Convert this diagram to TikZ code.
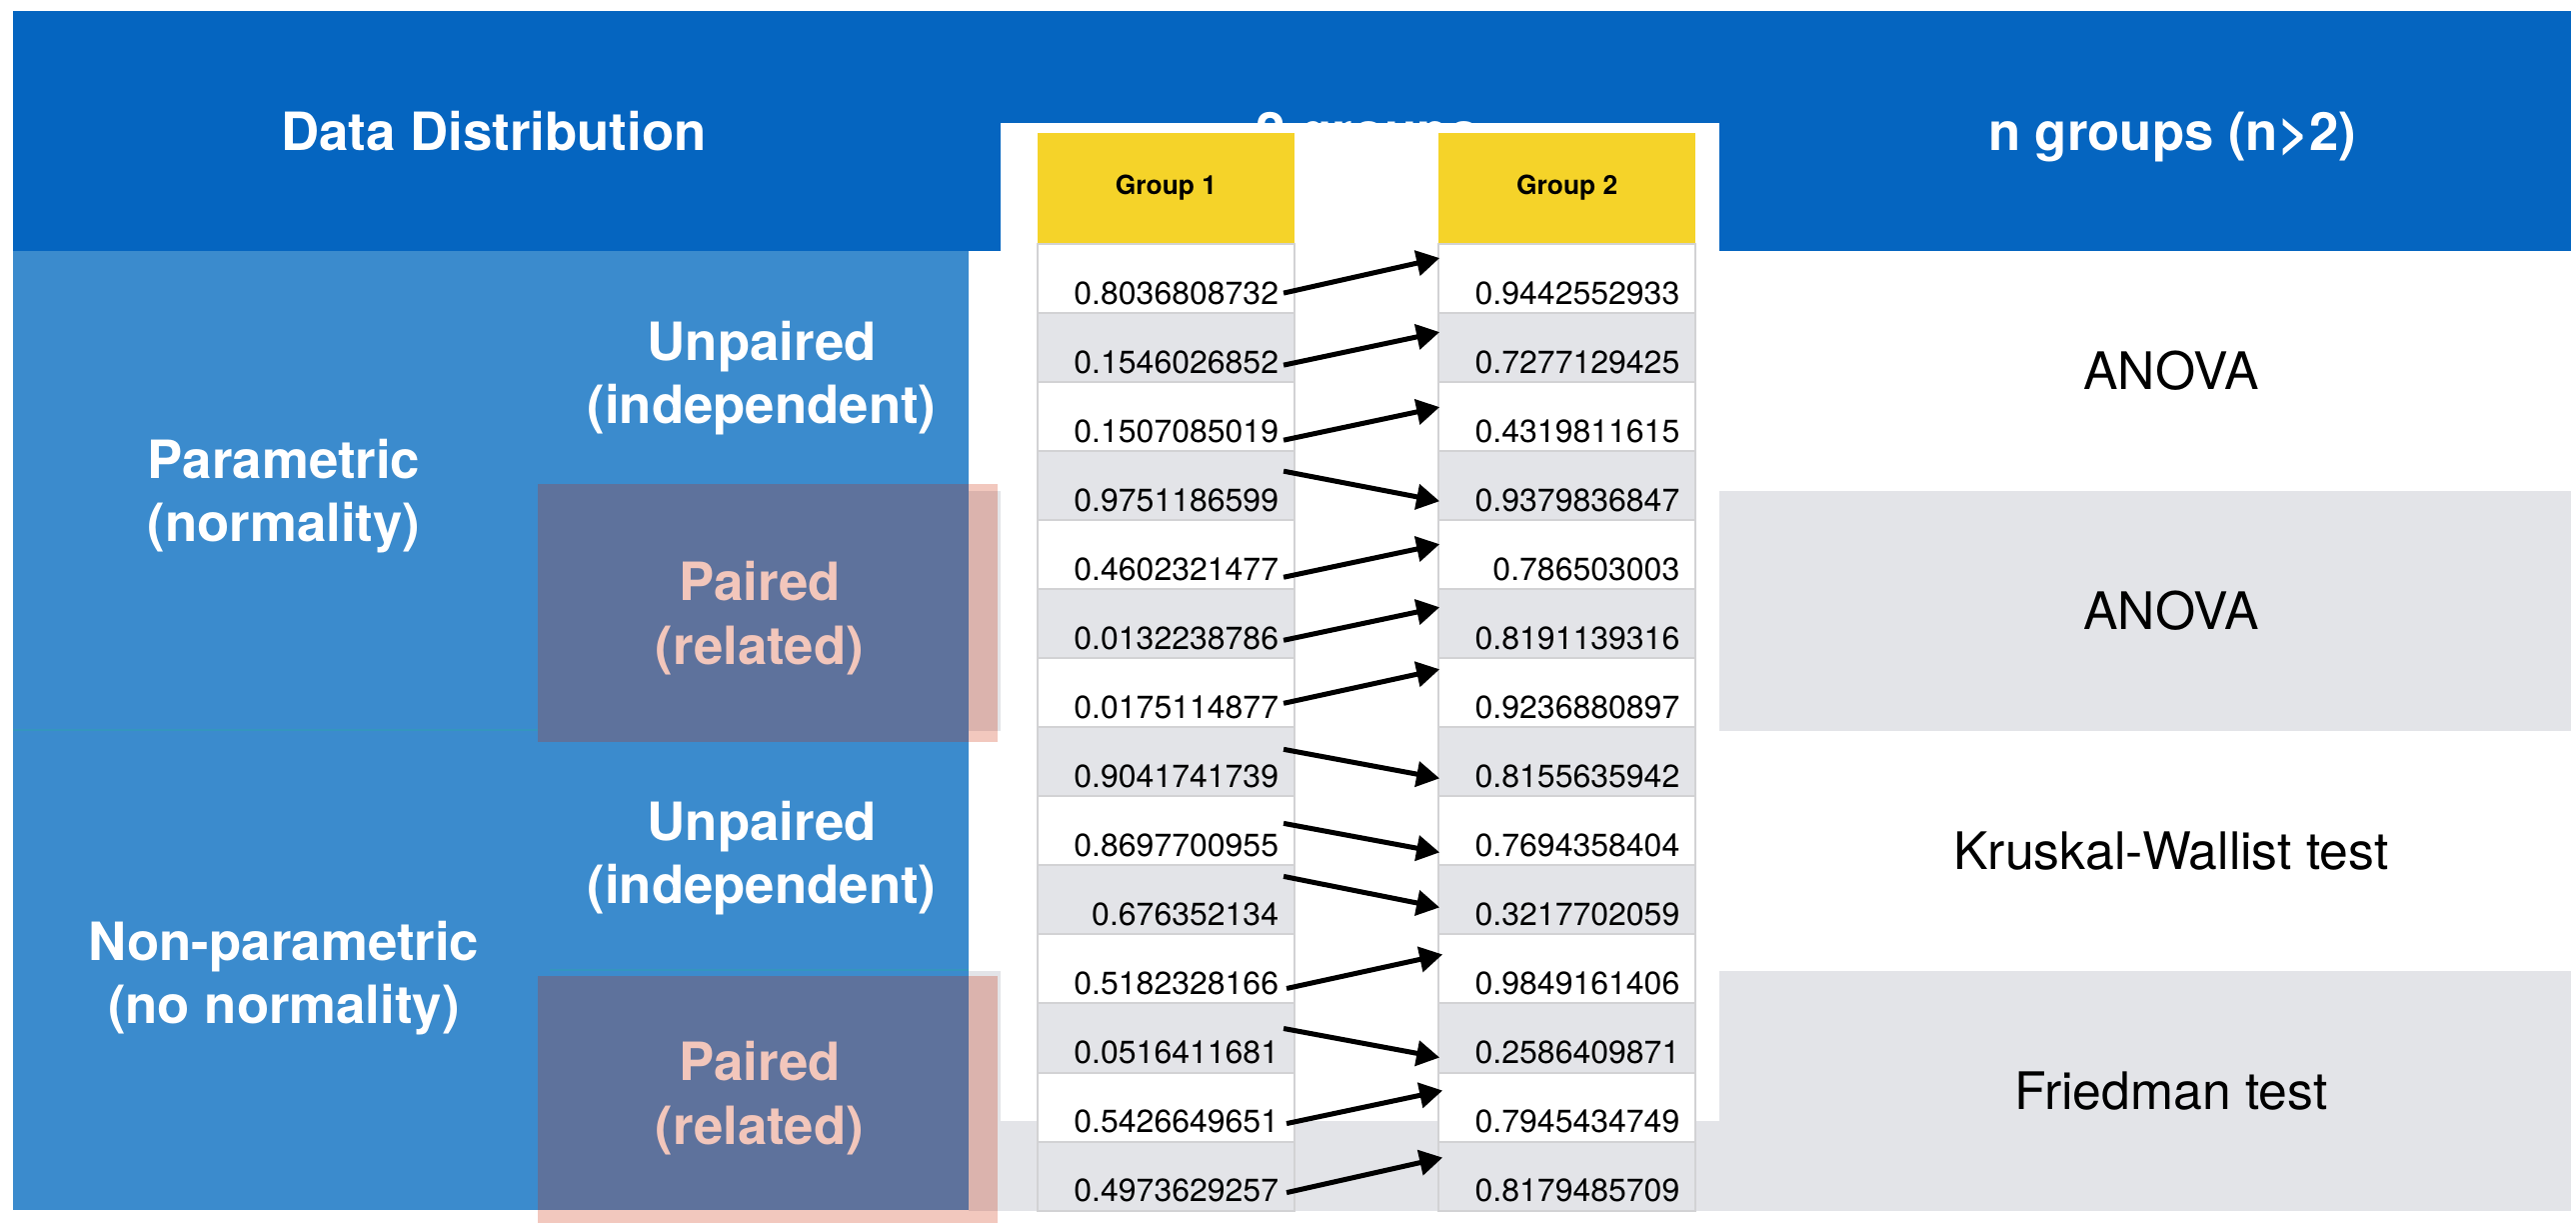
\documentclass[tikz,border=0pt]{standalone}
\usepackage{fontspec}
\setmainfont{TeX Gyre Heros}
\usetikzlibrary{positioning,arrows.meta}
\definecolor{hdrblue}{RGB}{5,101,192}
\definecolor{lightblue}{RGB}{59,139,205}
\definecolor{darkbox}{RGB}{94,114,156}
\definecolor{pinklight}{RGB}{242,200,190}
\definecolor{pinkdark}{RGB}{219,179,173}
\definecolor{pinktext}{RGB}{242,198,187}
\definecolor{rowgray}{RGB}{227,228,232}
\definecolor{cellline}{RGB}{210,210,212}
\definecolor{grpyellow}{RGB}{245,211,41}
\definecolor{tealline}{RGB}{52,150,190}

\begin{document}
\begin{tikzpicture}[x=0.01cm, y=-0.01cm,
	>={Triangle[length=0.23cm,width=0.25cm]},
	hd/.style={text=white, anchor=base, font=\fontsize{15}{18}\selectfont\bfseries},
	lbl/.style={text=white, align=center, font=\fontsize{15}{18}\selectfont\bfseries},
	test/.style={font=\fontsize{14.7}{17}\selectfont},
	grp/.style={fill=grpyellow, minimum width=2.57cm, minimum height=1.1cm, inner sep=0pt, outer sep=0pt, font=\fontsize{7.5}{9}\selectfont\bfseries},
	cell/.style={draw=cellline, line width=0.02cm, fill=white, outer sep=0pt, minimum width=2.57cm, inner xsep=0.16cm, inner ysep=0pt, text width=2.25cm, align=right, text height=0.6cm, text depth=0.09cm, font=\fontsize{9.1}{10}\selectfont},
	odd/.style={cell, fill=rowgray},
	arr/.style={->, line width=0.05cm}]
			\useasboundingbox (0,0) rectangle (2577,1223);
			\fill[white] (0,0) rectangle (2577,1223);

			\fill[hdrblue] (13,11) rectangle (2572,251);
			\node[hd] (dd) at (494,150) {Data Distribution};
			\node[hd] (two) at (1368,150) {2 groups};
			\node[hd] (ng) at (2173,150) {n groups (n>2)};

			\fill[rowgray] (969,491) rectangle (2572,731);
			\fill[rowgray] (969,971) rectangle (2572,1211);
			\fill[lightblue] (13,251) rectangle (969,1210);
			\draw[tealline, line width=0.02cm] (13,730) -- (969,730) (550,970) -- (969,970);

			\fill[pinklight] (538,484) rectangle (998,742);
			\fill[pinkdark] (969,491) rectangle (998,731);
			\fill[darkbox] (538,484) rectangle (969,742);
			\fill[pinklight] (538,976) rectangle (998,1223);
			\fill[pinkdark] (969,976) rectangle (998,1211);
			\fill[darkbox] (538,976) rectangle (969,1210);

			\node[lbl] (par) at (284,496) {Parametric\\(normality)};
			\node[lbl] (unp1) at (762,378) {Unpaired\\(independent)};
			\node[lbl, text=pinktext] (pai1) at (760,618) {Paired\\(related)};
			\node[lbl] (npar) at (284,978) {Non-parametric\\(no normality)};
			\node[lbl] (unp2) at (762,858) {Unpaired\\(independent)};
			\node[lbl, text=pinktext] (pai2) at (760,1098) {Paired\\(related)};

			\fill[white] (1001,123) rectangle (1720,1121);
			\node[grp] (g1) at (1166.5,188) {Group 1};
			\node[grp, right = 1.44cm of g1] (g2) {Group 2};

			\node[cell, below = 0.01cm of g1] (a0) {0.8036808732};
			\node[odd, below = 0pt of a0] (a1) {0.1546026852};
			\node[cell, below = 0pt of a1] (a2) {0.1507085019};
			\node[odd, below = 0pt of a2] (a3) {0.9751186599};
			\node[cell, below = 0pt of a3] (a4) {0.4602321477};
			\node[odd, below = 0pt of a4] (a5) {0.0132238786};
			\node[cell, below = 0pt of a5] (a6) {0.0175114877};
			\node[odd, below = 0pt of a6] (a7) {0.9041741739};
			\node[cell, below = 0pt of a7] (a8) {0.8697700955};
			\node[odd, below = 0pt of a8] (a9) {0.676352134};
			\node[cell, below = 0pt of a9] (a10) {0.5182328166};
			\node[odd, below = 0pt of a10] (a11) {0.0516411681};
			\node[cell, below = 0pt of a11] (a12) {0.5426649651};
			\node[odd, below = 0pt of a12] (a13) {0.4973629257};

			\node[cell, below = 0.01cm of g2] (b0) {0.9442552933};
			\node[odd, below = 0pt of b0] (b1) {0.7277129425};
			\node[cell, below = 0pt of b1] (b2) {0.4319811615};
			\node[odd, below = 0pt of b2] (b3) {0.9379836847};
			\node[cell, below = 0pt of b3] (b4) {0.786503003};
			\node[odd, below = 0pt of b4] (b5) {0.8191139316};
			\node[cell, below = 0pt of b5] (b6) {0.9236880897};
			\node[odd, below = 0pt of b6] (b7) {0.8155635942};
			\node[cell, below = 0pt of b7] (b8) {0.7694358404};
			\node[odd, below = 0pt of b8] (b9) {0.3217702059};
			\node[cell, below = 0pt of b9] (b10) {0.9849161406};
			\node[odd, below = 0pt of b10] (b11) {0.2586409871};
			\node[cell, below = 0pt of b11] (b12) {0.7945434749};
			\node[odd, below = 0pt of b12] (b13) {0.8179485709};

			\draw[arr] ([shift={(-11,-20)}]a0.south east) -- ([shift={(1,14)}]b0.north west);
			\draw[arr] ([shift={(-11,-17)}]a1.south east) -- ([shift={(1,19)}]b1.north west);
			\draw[arr] ([shift={(-11,-11)}]a2.south east) -- ([shift={(1,25)}]b2.north west);
			\draw[arr] ([shift={(-11,20)}]a3.north east) -- ([shift={(1,-19)}]b3.south west);
			\draw[arr] ([shift={(-11,-12)}]a4.south east) -- ([shift={(1,24)}]b4.north west);
			\draw[arr] ([shift={(-11,-18)}]a5.south east) -- ([shift={(1,18)}]b5.north west);
			\draw[arr] ([shift={(-11,-24)}]a6.south east) -- ([shift={(1,11)}]b6.north west);
			\draw[arr] ([shift={(-11,22)}]a7.north east) -- ([shift={(1,-18)}]b7.south west);
			\draw[arr] ([shift={(-11,27)}]a8.north east) -- ([shift={(1,-13)}]b8.south west);
			\draw[arr] ([shift={(-11,11)}]a9.north east) -- ([shift={(1,-27)}]b9.south west);
			\draw[arr] ([shift={(-8,-15)}]a10.south east) -- ([shift={(4,20)}]b10.north west);
			\draw[arr] ([shift={(-11,25)}]a11.north east) -- ([shift={(1,-15)}]b11.south west);
			\draw[arr] ([shift={(-8,-18)}]a12.south east) -- ([shift={(4,18)}]b12.north west);
			\draw[arr] ([shift={(-8,-18)}]a13.south east) -- ([shift={(4,16)}]b13.north west);

			\node[test] (t1) at (2172,371) {ANOVA};
			\node[test] (t2) at (2172,611) {ANOVA};
			\node[test] (t3) at (2172,851) {Kruskal-Wallist test};
			\node[test] (t4) at (2172,1091) {Friedman test};
		\end{tikzpicture}
\end{document}
